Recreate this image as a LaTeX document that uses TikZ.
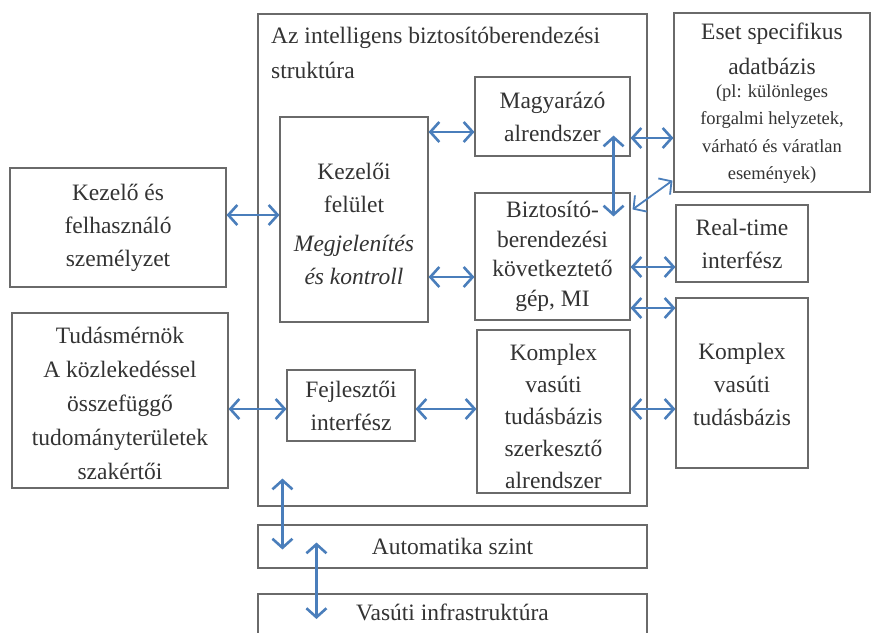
\documentclass[tikz,border=0pt]{standalone}
\usepackage{fontspec}
\setmainfont{Liberation Serif}
\usetikzlibrary{arrows.meta,calc}
\definecolor{arrblue}{HTML}{4A7EBB}
\definecolor{boxgray}{HTML}{6A6A6A}
\definecolor{txt}{HTML}{333333}
\begin{document}
\begin{tikzpicture}[x=1pt,y=-1pt,
  box/.style={draw=boxgray,line width=1.1pt,inner sep=0pt,align=center,text=txt,font=\fontsize{23.5}{33}\selectfont},
  lbl/.style={inner sep=0pt,align=center,text=txt,font=\fontsize{23.5}{33}\selectfont},
  small/.style={inner sep=0pt,align=center,text=txt,font=\fontsize{18.5}{27.5}\selectfont},
  arr/.style={draw=arrblue,line width=2.6pt,{Straight Barb[length=9pt,width=20pt]}-{Straight Barb[length=9pt,width=20pt]}}]
\useasboundingbox (0,0) rectangle (872,632);
\fill[white] (0,0) rectangle (872,632);

% main structure
\node[box,minimum width=389pt,minimum height=492pt] (main) at (452.5,260) {};
\node[lbl,anchor=north west,align=left,font=\fontsize{23.5}{35}\selectfont] (title) at (271,27) {Az intelligens biztosítóberendezési\\struktúra};

\node[box,minimum width=155pt,minimum height=79pt] (magy) at (552.5,116.5) {Magyarázó\\alrendszer};
\node[box,minimum width=148pt,minimum height=205pt] (kezeloi) at (354,219.5) {};
\node[lbl] (kezeloitxt) at (354,224) {Kezelői\\felület\\[6pt]\textit{Megjelenítés}\\\textit{és kontroll}};
\node[box,minimum width=155pt,minimum height=127pt,font=\fontsize{23.5}{29.5}\selectfont] (bizt) at (552.5,256.5) {Biztosító-\\berendezési\\következtető\\gép, MI};
\node[box,minimum width=128pt,minimum height=71pt] (fejl) at (351,405.5) {Fejlesztői\\interfész};
\node[box,minimum width=153pt,minimum height=163pt] (kompsub) at (553.5,411.5) {};
\node[lbl,font=\fontsize{23.5}{32}\selectfont] (kompsubtxt) at (553.5,416) {Komplex\\vasúti\\tudásbázis\\szerkesztő\\alrendszer};

% left
\node[box,minimum width=216pt,minimum height=119pt] (kezelo) at (118,227.5) {Kezelő és\\felhasználó\\személyzet};
\node[box,minimum width=216pt,minimum height=175pt] (tudas) at (120,400.5) {};
\node[lbl,font=\fontsize{23.5}{34}\selectfont] (tudastxt) at (120,403) {Tudásmérnök\\A közlekedéssel\\összefüggő\\tudományterületek\\szakértői};

% right
\node[box,minimum width=196pt,minimum height=179pt] (eset) at (772,102.5) {};
\node[lbl,font=\fontsize{23.5}{35}\selectfont] (esettxt) at (772,49) {Eset specifikus\\adatbázis};
\node[small] (esetsmall) at (772,134) {(pl: különleges\\forgalmi helyzetek,\\várható és váratlan\\események)};
\node[box,minimum width=132pt,minimum height=77pt] (rt) at (742,243.5) {Real-time\\interfész};
\node[box,minimum width=132pt,minimum height=170pt] (komp) at (742,383) {};
\node[lbl] (komptxt) at (742,384) {Komplex\\vasúti\\tudásbázis};

% bottom
\node[box,minimum width=389pt,minimum height=43pt] (auto) at (452.5,546.5) {Automatika szint};
\node[box,minimum width=389pt,minimum height=46pt] (infra) at (452.5,617) {};
\node[lbl] (infratxt) at (452.5,612) {Vasúti infrastruktúra};

% connectors
\draw[arr] (kezelo.east |- 0,215) -- (kezeloi.west |- 0,215);
\draw[arr] (tudas.east |- 0,409) -- (fejl.west |- 0,409);
\draw[arr] (kezeloi.east |- 0,132) -- (magy.west |- 0,132);
\draw[arr] (kezeloi.east |- 0,277) -- (bizt.west |- 0,277);
\draw[arr] (fejl.east |- 0,409) -- (kompsub.west |- 0,409);
\draw[arr] (magy.east |- 0,138) -- (eset.west |- 0,138);
\draw[arr] ([xshift=-17pt,yshift=21pt]magy.south east) -- ([xshift=-17pt,yshift=-24pt]bizt.north east);
\draw[arr,line width=1.8pt] ([xshift=2pt,yshift=-17pt]bizt.north east) -- ([xshift=-1pt,yshift=12pt]eset.south west);
\draw[arr] (bizt.east |- 0,267) -- (rt.west |- 0,267);
\draw[arr] (bizt.east |- 0,308) -- (komp.west |- 0,308);
\draw[arr] (kompsub.east |- 0,409) -- (komp.west |- 0,409);
\draw[arr] ([xshift=25pt,yshift=28pt]main.south west) -- ([xshift=25pt,yshift=-3pt]auto.west);
\draw[arr] ([xshift=59pt,yshift=4pt]auto.west) -- ([xshift=59pt,yshift=-2pt]infra.west);
\end{tikzpicture}
\end{document}
